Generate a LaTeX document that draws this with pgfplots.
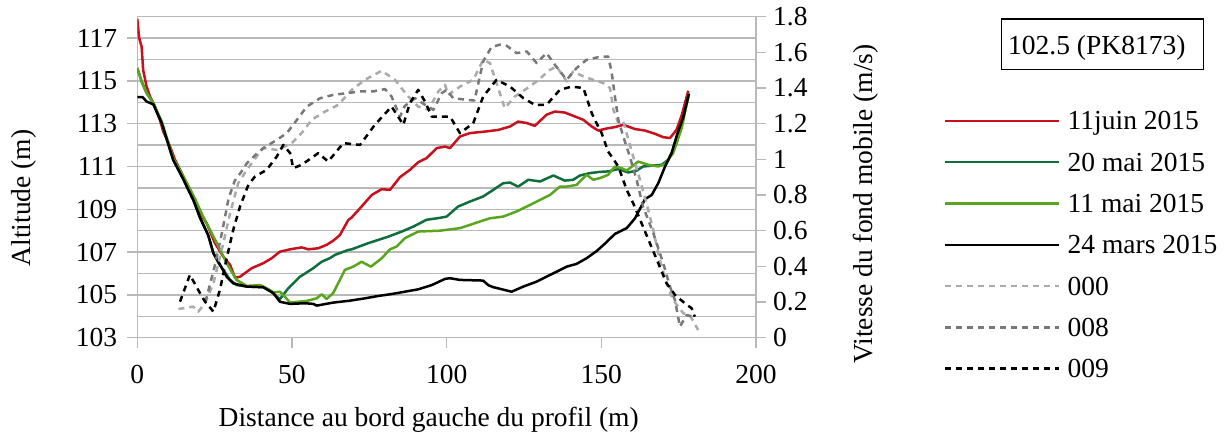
\documentclass[border=0pt]{standalone}
\usepackage{fontspec}
\setmainfont{Liberation Serif}
\usepackage{pgfplots}
\pgfplotsset{compat=1.18}
\definecolor{cred}{RGB}{200,16,30}
\definecolor{cdgreen}{RGB}{16,110,60}
\definecolor{clgreen}{RGB}{90,165,30}
\definecolor{cgA}{RGB}{170,170,170}
\definecolor{cgB}{RGB}{120,120,120}
\definecolor{cgrid}{RGB}{185,185,185}
\newcommand{\bigfont}{\fontsize{27.5}{33}\selectfont}

\pgfplotstableread{
x y
0 117.9
0.6 117.0
1.4 116.6
1.9 115.5
3 114.74
4.1 114.27
5.2 113.96
7.3 113.18
8.4 112.63
10.6 111.93
12.2 111.31
14.9 110.53
16.5 110.06
18.6 109.44
20.3 108.82
22.4 108.35
25.1 107.42
27.8 106.79
30 106.4
31.6 105.8
33.2 105.85
37 106.25
40.7 106.48
43.4 106.71
46.1 107.02
49.4 107.13
53.1 107.22
55.3 107.13
58.5 107.18
61.2 107.34
63.5 107.55
65.5 107.8
68.2 108.5
69.3 108.62
72.5 109.13
75.8 109.67
79 109.94
81.7 109.91
84.9 110.5
88.1 110.84
90.8 111.2
93.5 111.39
96.8 111.86
99.5 111.93
101.1 111.86
104.3 112.4
107.5 112.56
112.9 112.64
116.7 112.71
120.5 112.87
123.1 113.1
125.9 113.03
128.5 112.9
132.3 113.42
135 113.57
138.2 113.52
140.9 113.37
144.2 113.18
146.9 112.87
149 112.68
152.2 112.79
154.4 112.84
157.1 112.95
160.9 112.75
164.1 112.68
167.3 112.53
170 112.37
172.2 112.33
174.3 112.71
176 113.4
178.1 114.54
}\juin

\pgfplotstableread{
x y
0 115.6
1.4 114.97
3 114.43
5.2 113.96
7.9 113.03
11.6 111.31
14.9 110.4
16 110.06
18.1 109.44
20.3 108.6
22.9 107.8
24.6 106.95
26.2 106.5
27.8 106.17
30 105.7
32.1 105.46
35.4 105.39
40.7 105.36
43 105.2
45.1 104.92
46.1 104.8
48.8 105.31
52.6 105.85
56.9 106.25
59.6 106.55
62.3 106.72
63.9 106.87
68.2 107.1
69.3 107.13
74.7 107.42
81.1 107.72
85.5 107.96
89.2 108.19
93.5 108.51
97.8 108.6
100 108.66
103.7 109.13
107.5 109.36
111.8 109.6
115.1 109.91
118.3 110.22
120.5 110.25
123.1 110.06
126.4 110.38
130.2 110.3
134.5 110.58
138.2 110.34
140.9 110.38
143.1 110.58
146.3 110.69
149.6 110.75
152.2 110.77
155.5 110.88
158.7 110.72
161.4 110.81
163.5 111.0
169.5 111.08
171.6 111.31
174.3 112.09
176 113
178.3 114.35
}\mai

\pgfplotstableread{
x y
0 115.6
1.4 114.97
3 114.43
5.2 113.96
7.9 113.1
11.6 111.4
15 110.5
16.5 110.1
18.6 109.5
21.3 108.66
25.7 107.42
28.9 106.48
32.1 105.7
35.4 105.42
39.7 105.46
41.8 105.31
44 105.12
46.1 105.15
47.5 104.95
49.4 104.64
54.8 104.72
58 104.84
59.6 105.03
61.2 104.81
63.3 105.08
66 105.85
67.1 106.17
69.8 106.32
72.5 106.55
75.5 106.32
79 106.71
81.7 107.13
83.8 107.26
86.5 107.65
90.8 107.96
97.8 108.0
104.3 108.12
107.5 108.27
109.7 108.38
114 108.58
118.3 108.66
122.6 108.9
125.9 109.13
130.2 109.44
133.4 109.67
136.6 110.06
138.8 110.06
142 110.14
145.2 110.61
147.4 110.38
149.6 110.46
152.2 110.61
154.4 111.0
156.6 110.92
158.2 110.81
161.9 111.23
165.2 111.08
168.4 111.0
170.6 111.12
173.2 111.62
176 112.8
178.3 114.43
}\maiB

\pgfplotstableread{
x y
0 114.24
1.7 114.24
3 114.04
5.2 113.9
7.9 113.03
11.6 111.31
14.9 110.4
16 110.06
18.1 109.44
20.3 108.6
22.9 107.8
24.6 106.95
26.2 106.55
28.9 105.85
31 105.54
35.4 105.39
40.7 105.36
44 105.08
46.1 104.68
49.4 104.58
54.2 104.61
56.9 104.58
58 104.5
63.3 104.64
68.7 104.73
73.6 104.84
77.9 104.95
82.2 105.04
86.5 105.15
90.8 105.26
95.2 105.46
99.5 105.75
101.1 105.78
104.3 105.7
111.8 105.67
113.5 105.45
115.1 105.36
121 105.15
124.8 105.39
129.1 105.62
134.5 106.01
138.8 106.32
142 106.45
145.2 106.71
148.5 107.05
151.2 107.4
154.4 107.85
158.2 108.12
160.9 108.58
164.1 109.47
166.3 109.67
168.4 110.22
170.6 111.0
172.7 111.62
174.5 112.5
176.5 113.3
178.3 114.4
}\mars

\pgfplotstableread{
x y
13.3 0.161
18.1 0.174
19.7 0.146
21.9 0.193
24.6 0.305
27.8 0.53
30 0.698
32.6 0.866
35.4 0.941
38.6 1.016
40.7 1.063
45.1 1.053
47.7 1.072
49.9 1.091
53.1 1.147
56.4 1.222
60.7 1.268
65 1.306
69.3 1.39
73.6 1.446
79 1.497
83.3 1.446
87.1 1.362
90.8 1.296
94.1 1.278
97.3 1.38
99.5 1.418
100.5 1.362
104.3 1.408
108.6 1.446
111.8 1.558
114 1.54
116.1 1.428
118.8 1.287
122 1.352
125.3 1.39
129.1 1.437
133.4 1.502
135.5 1.521
138.8 1.437
140.9 1.493
144.2 1.465
147.4 1.446
150.6 1.428
152.8 1.40
153.9 1.278
155.5 1.203
157.1 1.212
160.3 1.016
162.5 0.885
164.6 0.754
166.8 0.604
168.9 0.436
171.1 0.305
173.2 0.211
176.5 0.137
178.6 0.127
181.3 0.043
}\vA

\pgfplotstableread{
x y
22 0.2
25 0.4
27.5 0.6
29.5 0.78
31.5 0.88
33.2 0.92
35.5 0.98
38.5 1.03
40.7 1.063
45.1 1.109
48.3 1.147
50.4 1.194
54.8 1.296
59.1 1.343
63.4 1.362
67.7 1.371
72 1.381
76.3 1.381
80.1 1.394
82.2 1.352
84.9 1.24
86.5 1.3
89.8 1.343
93 1.306
95.7 1.278
98.4 1.371
100 1.39
102.1 1.343
106.5 1.334
109 1.33
111.8 1.549
114.5 1.63
117.2 1.643
119.4 1.637
122.6 1.596
125.9 1.605
129.1 1.54
132.3 1.596
135 1.53
138.8 1.446
142 1.512
145.2 1.558
149 1.573
152.2 1.577
153.3 1.493
154.4 1.352
155.5 1.222
157.1 1.128
159.2 1.016
161.4 0.885
163.5 0.735
166.8 0.586
170 0.418
172.2 0.286
173.8 0.211
175.4 0.062
177.6 0.127
179.7 0.118
}\vB

\pgfplotstableread{
x y
13.8 0.202
17 0.352
20.3 0.249
21.9 0.202
24.6 0.146
26.7 0.268
28.9 0.446
31 0.604
33.2 0.735
35.9 0.857
38 0.903
41.8 0.941
45.1 1.016
47.2 1.081
49.4 1.035
50.4 0.951
53.1 0.969
58.5 1.035
61.7 0.988
66.6 1.091
72 1.081
76.8 1.194
82.2 1.296
86 1.194
88.1 1.315
90.8 1.39
93 1.324
95.2 1.24
98.4 1.24
101.1 1.24
104.3 1.147
108.6 1.203
111.8 1.352
116.1 1.446
120.5 1.408
124.8 1.343
128.5 1.306
132.3 1.306
136.6 1.39
140.4 1.408
144.2 1.40
146.9 1.259
147.9 1.222
150.1 1.147
152.2 1.044
155.5 0.96
158.2 0.829
160.3 0.754
163 0.642
165.7 0.53
168.4 0.418
171.1 0.305
173.8 0.24
177 0.193
179.2 0.165
180.2 0.118
}\vC

\begin{document}
\begin{tikzpicture}[font=\bigfont]
\useasboundingbox (0,0) rectangle (1225pt,434pt);
\pgfplotsset{common/.style={
  scale only axis, width=618.7pt, height=321pt,
  at={(137.3pt,96.3pt)}, anchor=south west,
  xmin=0, xmax=200,
  axis line style={cgrid, line width=1.5pt},
  tick style={cgrid, line width=1.5pt},
  major tick length=10pt, minor tick length=0pt,
  tick align=outside,
  /pgf/number format/assume math mode=true,
  tick label style={font=\bigfont},
  label style={font=\bigfont},
  every axis plot/.append style={line width=2.5pt, line join=round},
}}
\begin{axis}[common,
  ymin=103, ymax=118,
  ytick={103,105,...,117},
  minor ytick={104,106,...,118},
  xtick={0,50,100,150,200},
  ymajorgrids, yminorgrids,
  major grid style={cgrid, line width=1.5pt},
  minor grid style={cgrid, line width=1.5pt},
  axis x line*=bottom, axis y line*=left,
  xticklabel style={anchor=north, inner sep=0pt, yshift=-17pt},
  yticklabel style={anchor=east, inner sep=0pt, xshift=-10pt},
  xlabel={Distance au bord gauche du profil (m)},
  xlabel style={at={(axis description cs:0.471,-0.278)}, anchor=base},
  ylabel={Altitude (m)},
  ylabel style={at={(axis description cs:-0.184,0.435)}, anchor=center},
]
\addplot[cred, no marks] table {\juin};
\addplot[cdgreen, no marks] table {\mai};
\addplot[clgreen, no marks] table {\maiB};
\addplot[black, no marks] table {\mars};
\end{axis}
\begin{axis}[common,
  ymin=0, ymax=1.8,
  ytick={0,0.2,0.4,0.6,0.8,1,1.2,1.4,1.6,1.8},
  axis y line*=right, hide x axis,
  yticklabel style={anchor=west, inner sep=0pt, xshift=7pt},
  ylabel={Vitesse du fond mobile (m/s)},
  ylabel style={at={(axis description cs:1.177,0.4165)}, anchor=center},
  legend style={at={(axis description cs:1.3039,0.7056)}, anchor=north west,
    draw=none, fill=none, inner sep=0pt, row sep=22.3pt, column sep=7pt,
    nodes={inner sep=0pt, text height=18.5pt, text depth=0.5pt}, font=\bigfont},
  legend cell align=left,
  legend image code/.code={\draw[line width=2.5pt, #1] (0pt,0pt) -- (114pt,0pt);},
]
\addlegendimage{cred, line width=2.5pt}
\addlegendentry{11juin 2015}
\addlegendimage{cdgreen, line width=2.5pt}
\addlegendentry{20 mai 2015}
\addlegendimage{clgreen, line width=2.5pt}
\addlegendentry{11 mai 2015}
\addlegendimage{black, line width=2.5pt}
\addlegendentry{24 mars 2015}
\addplot[cgA, no marks, dash pattern=on 6pt off 5pt] table {\vA};
\addlegendentry{000}
\addplot[cgB, no marks, dash pattern=on 6pt off 5pt] table {\vB};
\addlegendentry{008}
\addplot[black, no marks, dash pattern=on 6pt off 5pt] table {\vC};
\addlegendentry{009}
\end{axis}
\draw[line width=1.5pt] (1001.7pt,415pt) rectangle (1203.3pt,364.7pt);
\node[anchor=base west, inner sep=0pt] at (1008pt,379pt) {102.5 (PK8173)};
\end{tikzpicture}
\end{document}
